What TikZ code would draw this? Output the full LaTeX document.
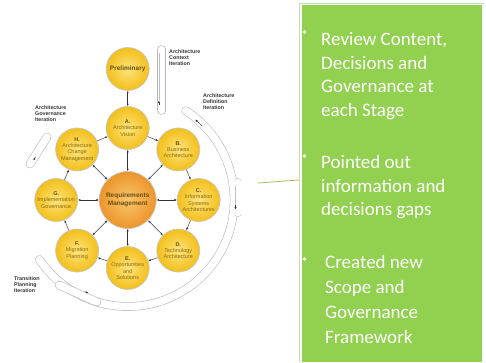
\documentclass[tikz,border=0pt]{standalone}
\usepackage{fontspec}
\setmainfont{Carlito}
\newfontfamily\admfont{Liberation Sans}
\usepackage{tikz}
\usetikzlibrary{positioning, arrows.meta}
\definecolor{admYellow}{HTML}{F3BF1A}
\definecolor{admYellowLight}{HTML}{FCE47C}
\definecolor{admOrange}{HTML}{EC952A}
\definecolor{admOrangeLight}{HTML}{F9C66E}
\definecolor{admText}{HTML}{8A6A12}
\definecolor{admLetter}{HTML}{6A4E0A}
\definecolor{panelGreen}{HTML}{92D050}
\definecolor{panelEdge}{HTML}{C8DDB0}
\definecolor{calloutGreen}{HTML}{A3BE63}
\newcommand{\phasehead}[1]{{\bfseries\color{admLetter}#1}}
\tikzstyle{phase} = [circle, draw=gray!45, line width=0.7pt,
minimum size=43pt, inner sep=0pt,
shading=radial, inner color=admYellowLight, outer color=admYellow,
align=center, text=admText,
font=\admfont\fontsize{5.5}{6.3}\selectfont]
\tikzstyle{reqs} = [phase, minimum size=57pt,
inner color=admOrangeLight, outer color=admOrange, text=admLetter,
font=\admfont\bfseries\fontsize{6.5}{7.4}\selectfont]
\tikzstyle{twoway} = [{Latex[length=2.4pt,width=2.2pt]}-{Latex[length=2.4pt,width=2.2pt]},
draw=gray!40!black, line width=0.45pt]
\tikzstyle{oneway} = [-{Latex[length=2.4pt,width=2.2pt]},
draw=gray!40!black, line width=0.45pt]
\tikzstyle{iterband} = [draw=gray!55, line width=0.6pt,
double=white, double distance=7.5pt, line cap=round]
\tikzstyle{itertrack} = [draw=gray!50, line width=0.4pt]
\tikzstyle{itertip} = [-{Latex[length=2.4pt,width=2.2pt]}, draw=black!80, line width=0.5pt]
\tikzstyle{iterlabel} = [align=left, anchor=north west, inner sep=0pt,
text=black!80, font=\admfont\bfseries\fontsize{5.3}{6.3}\selectfont]
\tikzstyle{panelbox} = [rectangle, fill=panelGreen, anchor=south west,
minimum width=180pt, minimum height=357pt, inner sep=0pt]
\tikzstyle{bullettext} = [align=left, anchor=north west, inner sep=0pt,
text=white, font=\fontsize{19}{23.5}\selectfont]
\tikzstyle{bulletdot} = [circle, fill=white, inner sep=0pt, minimum size=3.8pt]
\begin{document}
\begin{tikzpicture}[x=1pt, y=1pt]
	\useasboundingbox (0,0) rectangle (486,362);
	%% iteration bands
	\begin{scope}[shift={(127.7,162)}]
		\draw[iterband] (57:106.5) arc[start angle=57, end angle=-146, radius=106.5];
		\draw[itertip] (45:105) arc[start angle=45, end angle=50, radius=105];
	\end{scope}
	\draw[iterband] (161.5,312.5) -- (161.5,251.5);
	\draw[itertrack] (159,309) -- (159,262);
	\draw[itertip] (159,257) -- (159,261.5);
	\draw[iterband] (238,179.5) -- (238,149.5);
	\draw[itertrack] (235.5,176) -- (235.5,157);
	\draw[itertip] (235.5,157) -- (235.5,152.5);
	\draw[iterband] (59,77) -- (97,60);
	\draw[itertip] (84.5,70.5) -- (88.5,68.7);
	\draw[iterband] (30,198) -- (47,225);
	\draw[itertip] (35.5,205) -- (33.3,201.5);
	%% ADM phases
	\begin{scope}[shift={(127.7,162)}]
		\node[reqs](req) at (0,0) {Requirements\\Management};
		\node[phase, text=admLetter, font=\admfont\bfseries\fontsize{6.5}{7.4}\selectfont]
			(prelim) at (90:131) {Preliminary};
		\node[phase](a) at (90:72) {\phasehead{A.}\\Architecture\\Vision};
		\node[phase](b) at (45:71.5) {\phasehead{B.}\\Business\\Architecture};
		\node[phase](c) at (0:71) {\phasehead{C.}\\Information\\Systems\\Architectures};
		\node[phase](d) at (-45:71.5) {\phasehead{D.}\\Technology\\Architecture};
		\node[phase](e) at (-90:68) {\phasehead{E.}\\Opportunities\\and\\Solutions};
		\node[phase](f) at (-135:71.5) {\phasehead{F.}\\Migration\\Planning};
		\node[phase](g) at (180:71.5) {\phasehead{G.}\\Implementation\\Governance};
		\node[phase](h) at (135:71.5) {\phasehead{H.}\\Architecture\\Change\\Management};
	\end{scope}
	%% cycle
	\draw[twoway] (prelim) -- (a);
	\draw[oneway] (a) -- (b);
	\draw[oneway] (b) -- (c);
	\draw[oneway] (c) -- (d);
	\draw[oneway] (d) -- (e);
	\draw[oneway] (e) -- (f);
	\draw[oneway] (f) -- (g);
	\draw[oneway] (g) -- (h);
	\draw[oneway] (h) -- (a);
	%% requirements to every phase
	\draw[twoway] (req) -- (a);
	\draw[twoway] (req) -- (b);
	\draw[twoway] (req) -- (c);
	\draw[twoway] (req) -- (d);
	\draw[twoway] (req) -- (e);
	\draw[twoway] (req) -- (f);
	\draw[twoway] (req) -- (g);
	\draw[twoway] (req) -- (h);
	%% iteration labels
	\node[iterlabel](contextlbl) at (169,313) {Architecture\\Context\\Iteration};
	\node[iterlabel](definitionlbl) at (203,269) {Architecture\\Definition\\Iteration};
	\node[iterlabel](governancelbl) at (35,257) {Architecture\\Governance\\Iteration};
	\node[iterlabel](transitionlbl) at (14,86) {Transition\\Planning\\Iteration};
	%% green panel
	\draw[panelEdge, line width=0.6pt] (299,0) -- (299,358.5) -- (484,358.5);
	\node[panelbox](panel) at (302,0) {};
	\coordinate (calloutstart) at (258,179);
	\coordinate (calloutend) at (299,182);
	\draw[calloutGreen, line width=0.8pt] (calloutstart) -- (calloutend);
	\node[bullettext](item1) at (321,329.5) {Review Content,\\Decisions and\\Governance at\\each Stage};
	\node[bulletdot](dot1) at (304.5,330) {};
	\node[bullettext](item2) at (321,206.5) {Pointed out\\information and\\decisions gaps};
	\node[bulletdot](dot2) at (304.5,206) {};
	\node[bullettext, font=\fontsize{19}{25}\selectfont](item3) at (325,106.5) {Created new\\Scope and\\Governance\\Framework};
	\node[bulletdot](dot3) at (304.5,103) {};
\end{tikzpicture}
\end{document}
